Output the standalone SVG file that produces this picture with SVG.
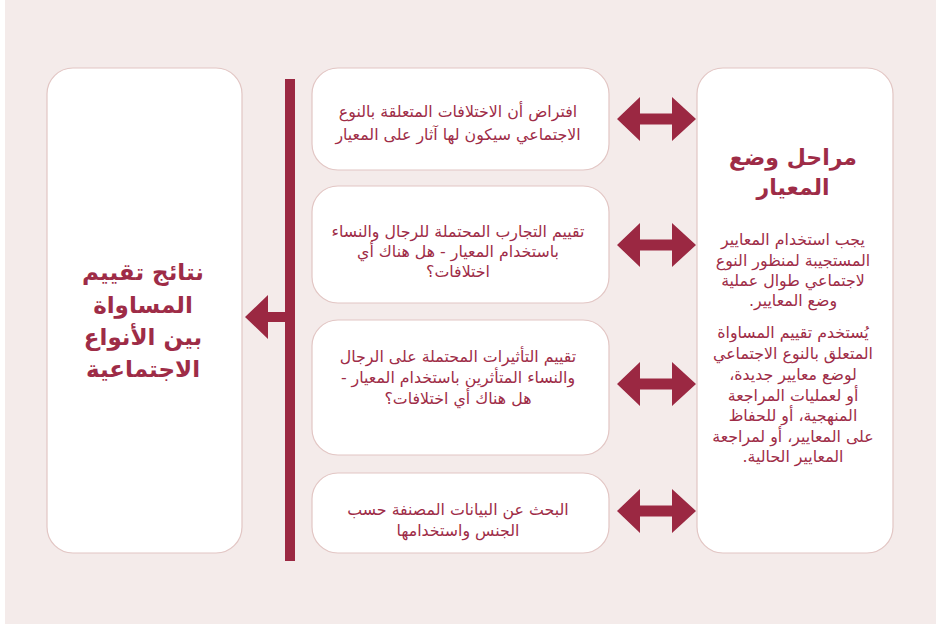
<svg xmlns="http://www.w3.org/2000/svg" width="941" height="624" viewBox="0 0 941 624">
<style>
.box{fill:#ffffff;stroke:#e2c6c4;stroke-width:1.2}
.t{font-family:"DejaVu Sans","Noto Sans",sans-serif;fill:#9e2c47;text-anchor:middle;direction:rtl}
.title{font-size:23px;font-weight:bold}
.rtitle{font-size:22px;font-weight:bold}
.body{font-size:15.8px}
.arr{fill:#9b2842}
</style>
<rect x="5" y="0" width="931" height="624" fill="#f4ebea"/>
<g id="connectors">
<rect class="arr" x="285" y="79" width="10" height="482"/>
<polygon class="arr" points="245,317 268,295 268,312 285,312 285,322 268,322 268,339"/>
<polygon class="arr" points="617,119 640,97 640,113.5 672,113.5 672,97 696,119 672,141 672,124.5 640,124.5 640,141"/>
<polygon class="arr" points="617,245 640,223 640,239.5 672,239.5 672,223 696,245 672,267 672,250.5 640,250.5 640,267"/>
<polygon class="arr" points="617,384 640,362 640,378.5 672,378.5 672,362 696,384 672,406 672,389.5 640,389.5 640,406"/>
<polygon class="arr" points="617,511 640,489 640,505.5 672,505.5 672,489 696,511 672,533 672,516.5 640,516.5 640,533"/>
</g>
<g id="node-results">
<rect class="box" x="47" y="68" width="195" height="485" rx="26"/>
<text class="t title" x="143" y="280">نتائج تقييم</text>
<text class="t title" x="143" y="313">المساواة</text>
<text class="t title" x="143" y="345">بين الأنواع</text>
<text class="t title" x="143" y="377">الاجتماعية</text>
</g>
<g id="node-step1">
<rect class="box" x="312" y="68" width="297" height="102" rx="26"/>
<text class="t body" x="458" y="117">افتراض أن الاختلافات المتعلقة بالنوع</text>
<text class="t body" x="458" y="140">الاجتماعي سيكون لها آثار على المعيار</text>
</g>
<g id="node-step2">
<rect class="box" x="312" y="186" width="297" height="117" rx="26"/>
<text class="t body" x="458" y="237">تقييم التجارب المحتملة للرجال والنساء</text>
<text class="t body" x="458" y="257">باستخدام المعيار - هل هناك أي</text>
<text class="t body" x="458" y="277">اختلافات؟</text>
</g>
<g id="node-step3">
<rect class="box" x="312" y="320" width="297" height="135" rx="26"/>
<text class="t body" x="458" y="362">تقييم التأثيرات المحتملة على الرجال</text>
<text class="t body" x="458" y="383">والنساء المتأثرين باستخدام المعيار -</text>
<text class="t body" x="458" y="404">هل هناك أي اختلافات؟</text>
</g>
<g id="node-step4">
<rect class="box" x="312" y="473" width="297" height="80" rx="26"/>
<text class="t body" x="458" y="515">البحث عن البيانات المصنفة حسب</text>
<text class="t body" x="458" y="536">الجنس واستخدامها</text>
</g>
<g id="node-stages">
<rect class="box" x="697" y="68" width="196" height="485" rx="26"/>
<text class="t rtitle" x="793" y="165">مراحل وضع</text>
<text class="t rtitle" x="793" y="195">المعيار</text>
<text class="t body" x="793" y="245">يجب استخدام المعايير</text>
<text class="t body" x="793" y="266">المستجيبة لمنظور النوع</text>
<text class="t body" x="793" y="286">لاجتماعي طوال عملية</text>
<text class="t body" x="793" y="306">وضع المعايير.</text>
<text class="t body" x="793" y="338">يُستخدم تقييم المساواة</text>
<text class="t body" x="793" y="359">المتعلق بالنوع الاجتماعي</text>
<text class="t body" x="793" y="380">لوضع معايير جديدة،</text>
<text class="t body" x="793" y="401">أو لعمليات المراجعة</text>
<text class="t body" x="793" y="421">المنهجية، أو للحفاظ</text>
<text class="t body" x="793" y="442">على المعايير، أو لمراجعة</text>
<text class="t body" x="793" y="462">المعايير الحالية.</text>
</g>
</svg>
